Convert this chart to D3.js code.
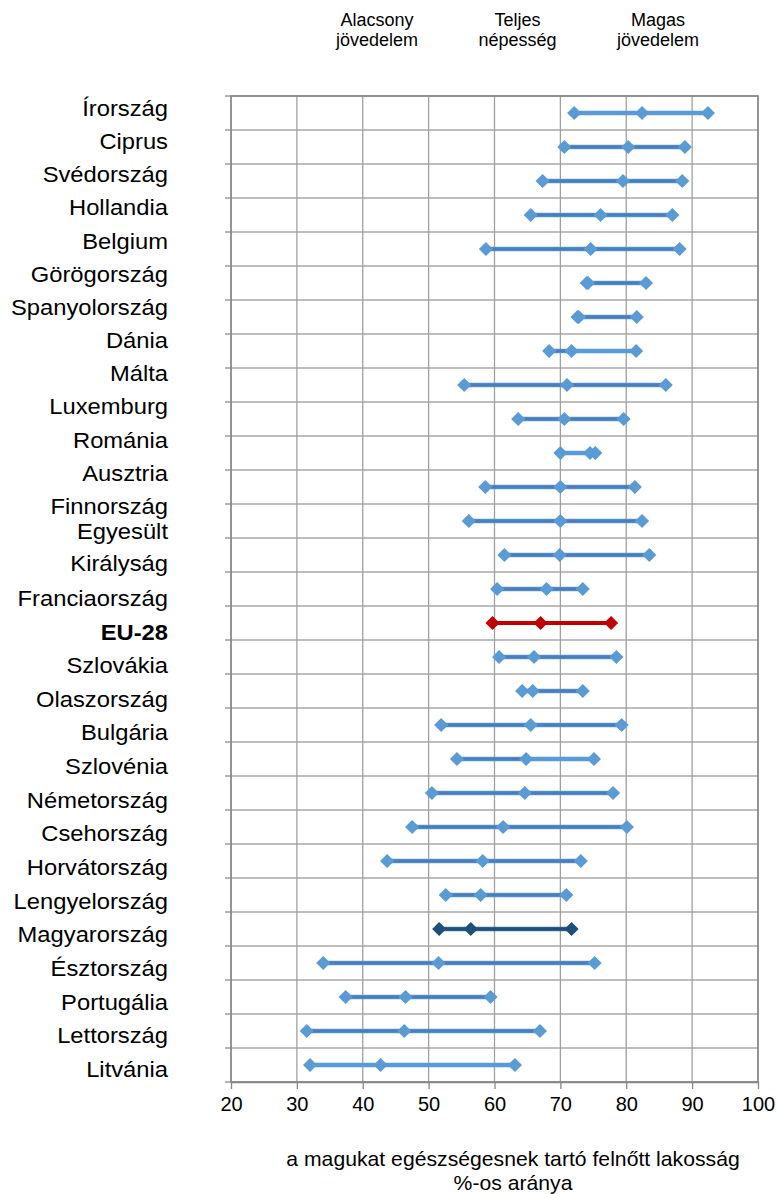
<!DOCTYPE html>
<html>
<head>
<meta charset="utf-8">
<script src="https://cdn.jsdelivr.net/npm/d3@7"></script>
<style>
  html, body { margin: 0; padding: 0; background: #fff; }
  svg { display: block; font-family: "Liberation Sans", Arial, sans-serif; }
</style>
</head>
<body>
<svg id="chart" width="778" height="1194"></svg>
<script>
// ---------- DATA ----------
const categories = [
  "Írország", "Ciprus", "Svédország", "Hollandia", "Belgium", "Görögország",
  "Spanyolország", "Dánia", "Málta", "Luxemburg", "Románia", "Ausztria",
  "Finnország", "Egyesült Királyság", "Franciaország", "EU-28", "Szlovákia",
  "Olaszország", "Bulgária", "Szlovénia", "Németország", "Csehország",
  "Horvátország", "Lengyelország", "Magyarország", "Észtország", "Portugália",
  "Lettország", "Litvánia"
];
const lowIncome = [
  72.1, 70.6, 67.3, 65.5, 58.7, 74.0, 72.6, 68.3, 55.4, 63.6, 70.0, 58.6,
  56.1, 61.5, 60.4, 59.7, 60.7, 64.2, 51.9, 54.3, 50.5, 47.5, 43.7, 52.6,
  51.6, 34.0, 37.4, 31.5, 32.0
];
const totalPop = [
  82.4, 80.3, 79.5, 76.1, 74.6, 74.2, 72.8, 71.7, 71.0, 70.6, 74.5, 70.0,
  70.0, 69.9, 67.9, 67.0, 66.0, 65.8, 65.5, 64.8, 64.6, 61.3, 58.2, 57.9,
  56.4, 51.5, 46.5, 46.3, 42.7
];
const highIncome = [
  92.4, 88.9, 88.5, 87.0, 88.1, 83.0, 81.6, 81.5, 86.0, 79.6, 75.3, 81.3,
  82.4, 83.5, 73.4, 77.7, 78.5, 73.4, 79.3, 75.1, 78.0, 80.1, 73.1, 70.9,
  71.7, 75.2, 59.4, 66.9, 63.1
];
const xTicks = [20, 30, 40, 50, 60, 70, 80, 90, 100];
const headerLabels = [["Alacsony", "jövedelem"], ["Teljes", "népesség"], ["Magas", "jövedelem"]];
const axisTitle = ["a magukat egészségesnek tartó felnőtt lakosság", "%-os aránya"];

// ---------- STYLES (per row: tone of low→total and total→high segments) ----------
const segmentTone = [
  ["L","L"],["D","D"],["D","D"],["D","D"],["D","D"],["D","D"],
  ["D","D"],["D","L"],["D","D"],["D","D"],["L","L"],["D","D"],
  ["D","D"],["D","D"],["D","D"],["EU","EU"],["D","D"],
  ["D","D"],["D","D"],["D","L"],["D","D"],["D","D"],
  ["D","D"],["D","D"],["HU","HU"],["D","D"],["D","D"],
  ["D","D"],["L","L"]
];
const LIGHT = "#5b9bd5", DARK = "#4a7ebb", RED = "#c00000", NAVY = "#1f4e79";

// ---------- LAYOUT ----------
const svg = d3.select("#chart");
const plot = { left: 231, right: 758, top: 96, bottom: 1082 };

const x = d3.scaleLinear().domain([20, 100]).range([plot.left, plot.right]);
const y = d3.scaleBand().domain(categories).range([plot.top, plot.bottom]).padding(0);
const bw = y.bandwidth();

// label positions (text block was typeset slightly off the band grid)
const labelY = d3.scaleLinear().domain([0, 12, 13, 14, 28]).range([108, 506, 547, 598, 1069]);

const g = svg.append("g");

// horizontal gridlines + left ticks
const bounds = d3.range(categories.length + 1).map(i => plot.top + i * bw);
g.selectAll(".hgrid").data(bounds).join("line")
  .attr("x1", plot.left).attr("x2", plot.right)
  .attr("y1", d => d).attr("y2", d => d)
  .attr("stroke", "#a9a9a9").attr("stroke-width", 1.3);
g.selectAll(".ltick").data(bounds).join("line")
  .attr("x1", plot.left - 6).attr("x2", plot.left)
  .attr("y1", d => d).attr("y2", d => d)
  .attr("stroke", "#8c8c8c").attr("stroke-width", 1.3);

// vertical gridlines
g.selectAll(".vgrid").data(xTicks).join("line")
  .attr("x1", d => x(d)).attr("x2", d => x(d))
  .attr("y1", plot.top).attr("y2", plot.bottom)
  .attr("stroke", "#a0a0a0").attr("stroke-width", 1.3);

// plot border
g.append("rect")
  .attr("x", plot.left).attr("y", plot.top)
  .attr("width", plot.right - plot.left).attr("height", plot.bottom - plot.top)
  .attr("fill", "none").attr("stroke", "#878787").attr("stroke-width", 1.6);

// bottom axis
const xAxis = d3.axisBottom(x).tickValues(xTicks).tickSizeInner(7).tickSizeOuter(0).tickPadding(8);
const ax = g.append("g").attr("transform", `translate(0,${plot.bottom})`).call(xAxis);
ax.select(".domain").attr("stroke", "#878787").attr("stroke-width", 1.6);
ax.selectAll(".tick line").attr("stroke", "#878787").attr("stroke-width", 1.3);
ax.selectAll(".tick text").attr("font-size", 20).attr("fill", "#000")
  .attr("font-family", "Liberation Sans, Arial, sans-serif");

// category labels (slightly wide typesetting as in the original)
categories.forEach((c, i) => {
  const parts = c === "Egyesült Királyság" ? ["Egyesült", "Királyság"] : [c];
  const offs = parts.length === 1 ? [0] : [-16, 16];
  parts.forEach((p, k) => {
    g.append("text")
      .attr("transform", `translate(168,${labelY(i) + offs[k]}) scale(1.08,1)`)
      .attr("text-anchor", "end")
      .attr("dy", "0.36em")
      .attr("font-size", 22).attr("fill", "#000")
      .attr("font-weight", c === "EU-28" ? "bold" : "normal")
      .text(p);
  });
});

// header labels above low / total / high
const headerX = d3.scalePoint().domain(d3.range(headerLabels.length)).range([377, 658]);
headerLabels.forEach((lines, i) => {
  const t = g.append("text").attr("text-anchor", "middle").attr("font-size", 18).attr("fill", "#000");
  lines.forEach((l, k) => {
    t.append("tspan").attr("x", headerX(i)).attr("y", 26 + k * 20).text(l);
  });
});

// axis title
const tt = g.append("text").attr("text-anchor", "middle").attr("fill", "#000")
  .attr("transform", "translate(513,0) scale(1.06,1)").attr("font-size", 20);
axisTitle.forEach((l, k) => {
  tt.append("tspan").attr("x", 0).attr("y", 1166 + k * 24).text(l);
});

// dumbbell segments
const rows = categories.map((c, i) => ({
  c, i, vals: [lowIncome[i], totalPop[i], highIncome[i]], tone: segmentTone[i]
}));
const marks = g.append("g");
rows.forEach(r => {
  const cy = y(r.c) + bw / 2;
  [[0, 1], [1, 2]].forEach(([a, b], s) => {
    const tone = r.tone[s];
    const x1 = x(r.vals[a]), x2 = x(r.vals[b]);
    if (tone === "EU") {
      marks.append("line").attr("x1", x1).attr("x2", x2).attr("y1", cy).attr("y2", cy)
        .attr("stroke", RED).attr("stroke-width", 4);
    } else if (tone === "HU") {
      marks.append("line").attr("x1", x1).attr("x2", x2).attr("y1", cy).attr("y2", cy)
        .attr("stroke", "#3f6f9f").attr("stroke-width", 4.5);
      marks.append("line").attr("x1", x1).attr("x2", x2).attr("y1", cy).attr("y2", cy)
        .attr("stroke", NAVY).attr("stroke-width", 3);
    } else {
      marks.append("line").attr("x1", x1).attr("x2", x2).attr("y1", cy).attr("y2", cy)
        .attr("stroke", LIGHT).attr("stroke-width", 4.5);
      if (tone === "D") {
        marks.append("line").attr("x1", x1).attr("x2", x2).attr("y1", cy).attr("y2", cy)
          .attr("stroke", DARK).attr("stroke-width", 3);
      }
    }
  });
});

// diamond markers
const diamond = d3.symbol().type(d3.symbolSquare).size(100);
rows.forEach(r => {
  const cy = y(r.c) + bw / 2;
  const col = r.tone[0] === "EU" ? RED : (r.tone[0] === "HU" ? NAVY : LIGHT);
  marks.selectAll(null).data(r.vals).join("path")
    .attr("d", diamond)
    .attr("transform", v => `translate(${x(v)},${cy}) rotate(45)`)
    .attr("fill", col);
});
</script>
</body>
</html>
